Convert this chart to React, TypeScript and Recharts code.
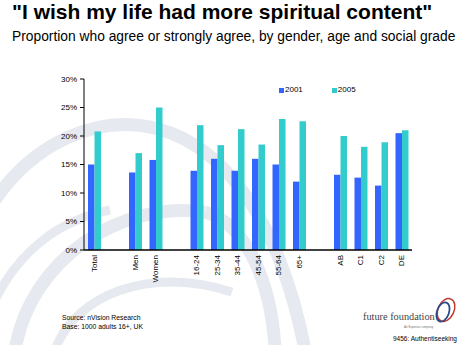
import React from 'react';
import { BarChart, Bar, XAxis, YAxis, Legend } from 'recharts';

// categories, with empty slots used as spacers between groups
const categories = ['Total', '', 'Men', 'Women', ' ', '16-24', '25-34', '35-44', '45-54', '55-64', '65+', '  ', 'AB', 'C1', 'C2', 'DE'];
const values2001 = [15.0, null, 13.6, 15.8, null, 13.9, 16.0, 13.9, 16.0, 15.0, 12.0, null, 13.2, 12.7, 11.3, 20.5];
const values2005 = [20.8, null, 17.0, 25.0, null, 21.9, 18.4, 21.2, 18.5, 23.0, 22.6, null, 20.0, 18.1, 18.9, 21.0];
const yTicks = [0, 5, 10, 15, 20, 25, 30];

const BLUE = '#3366ff';
const TEAL = '#33cccc';
const FONT = '"Liberation Sans", Arial, sans-serif';

const data = categories.map((name, i) => ({
  name,
  y2001: values2001[i],
  y2005: values2005[i],
}));

const XTick = ({ x, y, payload }: any) => (
  <text
    x={x}
    y={y}
    transform={`rotate(-90 ${x} ${y})`}
    textAnchor="end"
    dominantBaseline="central"
    fontSize={8}
    fontFamily={FONT}
    fill="#000"
  >
    {payload.value.trim()}
  </text>
);

const LegendBox = () => (
  <div style={{ display: 'flex', fontFamily: FONT, fontSize: 8, color: '#000', lineHeight: '8px' }}>
    {[
      { label: '2001', color: BLUE },
      { label: '2005', color: TEAL },
    ].map((item, i) => (
      <div key={item.label} style={{ display: 'flex', alignItems: 'center', marginRight: i === 0 ? 29 : 0 }}>
        <span style={{ width: 5, height: 5, background: item.color, marginRight: 1, display: 'inline-block' }} />
        {item.label}
      </div>
    ))}
  </div>
);

// faint globe watermark behind the chart
const Watermark = () => (
  <svg width={465} height={345} style={{ position: 'absolute', left: 0, top: 0 }}>
    <g fill="none" stroke="#e6e9ef" strokeWidth={13}>
      <path d="M -5 200 C 70 90, 250 70, 305 350" />
      <path d="M 15 350 C 30 260, 120 200, 205 212" />
      <path d="M 205 212 C 250 225, 272 290, 275 350" />
      <path d="M 55 350 C 75 295, 150 265, 232 292" strokeWidth={9} />
      <path d="M -5 300 C 20 250, 60 220, 110 210" strokeWidth={9} />
    </g>
  </svg>
);

const Logo = () => (
  <svg width={465} height={345} style={{ position: 'absolute', left: 0, top: 0 }}>
    <text x={363} y={320} fontFamily='"Liberation Serif", "DejaVu Serif", serif' fontSize={10.3} fill="#444">
      future foundation
    </text>
    <text x={404} y={328} fontFamily={FONT} fontSize={3} fill="#777">
      An Experian company
    </text>
    <ellipse cx={446} cy={310} rx={8} ry={12} fill="none" stroke="#c0392b" strokeWidth={1.5} transform="rotate(25 446 310)" />
    <ellipse cx={443} cy={312} rx={6} ry={10} fill="none" stroke="#2c4a8a" strokeWidth={1.8} transform="rotate(20 443 312)" />
    <text x={62} y={320} fontFamily={FONT} fontSize={6.8} fill="#000">Source: nVision Research</text>
    <text x={62} y={329} fontFamily={FONT} fontSize={6.8} fill="#000">Base: 1000 adults 16+, UK</text>
    <text x={393} y={341} fontFamily={FONT} fontSize={6.5} fill="#000">9456: Authentiseeking</text>
  </svg>
);

export default function App() {
  return (
    <div style={{ position: 'absolute', left: 0, top: 0, width: 465, height: 345, background: '#fff', overflow: 'hidden' }}>
      <Watermark />
      <div style={{ position: 'absolute', left: 12, top: 0, fontFamily: FONT, fontWeight: 'bold', fontSize: 21, whiteSpace: 'nowrap' }}>
        "I wish my life had more spiritual content"
      </div>
      <div style={{ position: 'absolute', left: 12, top: 29, fontFamily: FONT, fontSize: 13.8, whiteSpace: 'nowrap' }}>
        Proportion who agree or strongly agree, by gender, age and social grade
      </div>
      <div style={{ position: 'absolute', left: 0, top: 0 }}>
        <BarChart
          width={465}
          height={345}
          data={data}
          margin={{ top: 79, right: 53, bottom: 0, left: 0 }}
          barSize={6.5}
          barGap={0}
        >
          <XAxis
            dataKey="name"
            interval={0}
            tick={<XTick />}
            tickLine={false}
            tickSize={0}
            tickMargin={5}
            axisLine={{ stroke: '#000', strokeWidth: 1.5 }}
            height={95}
          />
          <YAxis
            width={84}
            domain={[0, 30]}
            ticks={yTicks}
            tickFormatter={(v: number) => `${v}%`}
            tick={{ fontSize: 8, fontFamily: FONT, fill: '#000' }}
            tickSize={4}
            tickMargin={3}
            tickLine={{ stroke: '#000' }}
            axisLine={{ stroke: '#000' }}
            interval={0}
          />
          <Legend
            layout="horizontal"
            verticalAlign="middle"
            content={<LegendBox />}
            wrapperStyle={{ position: 'absolute', top: 86, left: 279, width: 'auto' }}
          />
          <Bar dataKey="y2001" name="2001" fill={BLUE} isAnimationActive={false} />
          <Bar dataKey="y2005" name="2005" fill={TEAL} isAnimationActive={false} />
        </BarChart>
      </div>
      <Logo />
    </div>
  );
}
